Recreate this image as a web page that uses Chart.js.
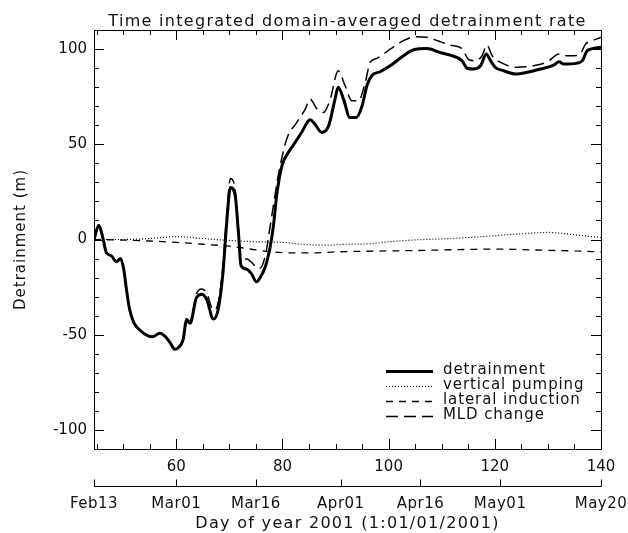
<!DOCTYPE html>
<html><head><meta charset="utf-8">
<script src="https://cdn.jsdelivr.net/npm/chart.js@4/dist/chart.umd.min.js"></script>
<style>html,body{margin:0;padding:0;background:#fff}canvas{display:block}</style>
</head><body>
<canvas id="c" width="628" height="533" style="width:628px;height:533px"></canvas>
<script>
// ---- data (day of year 2001 / metres) ----
const detrainDays = [44.5,45.4,46.2,46.8,47.8,48.7,49.5,50.1,50.6,51.2,52,53.1,54.7,55.6,56.9,57.8,58.8,59.7,60.3,61.3,61.9,62.6,63.8,64.8,65.7,67,67.9,68.8,69.5,70.2,71.1,71.7,72.2,73.3,74.2,75.1,75.8,76.8,77.6,78.3,78.9,79.9,81.1,82.4,83.6,85.2,86.1,87.4,88.7,89.9,90.5,91.5,92.7,93.9,95,95.9,96.8,98.4,100.3,102.8,104.7,107.2,109.7,111.6,113.8,114.8,116,117.3,118.4,119.2,120.1,121.7,123.9,126.1,128.6,131.1,132.1,133,135.5,136.5,137.4,140];
const detrainVals = [0,7.5,0.5,-6.8,-8.6,-11.7,-10,-15.6,-26,-36.6,-43.6,-47.5,-50.6,-51,-49.2,-50.6,-54,-57.6,-57,-52.4,-42.7,-44,-30.5,-28.7,-31.3,-41.8,-36.6,-17.3,9,27.3,23,3.7,-13.8,-15.6,-18.2,-22.2,-20,-14,-5.1,7.2,23,38.7,45.7,51,56.2,62.9,60.6,56.2,59.7,73.7,79.9,73.7,64.1,64.1,70.2,80.7,86,88.1,91.2,96.5,99.6,100.3,98.2,96.8,93.9,89.9,89.5,91.2,97.4,93.9,90.4,88.6,86.9,87.8,89.5,91.6,93.3,92.1,92.6,93.9,99.1,100.9];

const mldDays = [44.5,45.4,46.2,46.8,47.8,48.7,49.5,50.1,50.6,51.2,52,53.1,54.7,55.6,56.9,57.8,58.8,59.7,60.3,61.3,61.9,62.6,63.8,64.8,65.7,67,67.9,68.8,69.5,70.2,71.1,71.7,72.2,73.3,74.2,75.1,75.8,76.8,77.6,78.3,79.2,80.8,82.7,84.3,85.2,86.5,87.7,89,90.5,91.8,93.1,94.3,95.6,96.5,97.8,100.3,102.8,105,107.2,109.1,111.6,113.8,115.1,116.3,117.6,118.5,119.5,121.1,124.2,127.3,129.9,132.1,133.7,135.9,137.1,138.4,140];
const mldVals = [0,7.5,0.5,-6.8,-8.6,-11.7,-10,-15.6,-26,-36.6,-43.6,-47.5,-50.6,-51,-49.2,-50.6,-54,-57.6,-57,-52.2,-41.5,-43,-28.5,-26,-28,-37,-33,-13,13,32,26,6,-9,-10.3,-12,-14.7,-15,-8,5.4,18,33.5,52.7,61.5,68.5,73.7,68.5,66.7,73.7,88.6,80.7,72.8,72.8,82.5,93,95.1,100,104.4,106.5,106.2,104.5,102,100.3,94.4,93.9,96.5,102.1,96.5,93,90.4,91.2,93.3,97.4,96.5,96.8,102.6,104.4,106.2];

const pumpDays = [44.5,50,55,60,65,70,75,80,85,88,92,96,100,105,110,115,120,125,130,135,140];
const pumpVals = [0,0,0.5,1.5,0.5,-0.5,-1.2,-1.5,-2.8,-3,-2.5,-2.3,-1.2,-0.2,0.3,1,2,3,3.7,2.5,1];

const latDays = [44.5,50,55,60,65,70,72,75,78,82,86,90,95,100,105,110,115,120,125,130,135,140];
const latVals = [0,-0.3,-0.8,-1.5,-2.5,-3.5,-4.2,-5.5,-6.5,-7,-7,-6.5,-6.2,-6,-5.8,-5.5,-5.2,-5,-5.3,-5.7,-6,-6.5];

const xTickValues = [60,80,100,120,140];
const yTickValues = [-100,-50,0,50,100];
const dateTickDays = [44.5,60,75,91,106,121,140];
const dateTickLabels = ['Feb13','Mar01','Mar16','Apr01','Apr16','May01','May20'];
const X_MIN = 44.5, X_MAX = 140, Y_MIN = -110, Y_MAX = 110;
const X_MINOR = 5, Y_MINOR = 10;

const FONT = 'DejaVu Sans';
const TXT = '#111';
const toPts = (xs, ys) => xs.map((d, i) => ({x: d, y: ys[i]}));

// wider letter spacing for titles (to mimic the wide vector font)
const spacing = {
  id: 'spacing',
  beforeDraw(chart) {
    const wrap = (obj, fn, ls) => {
      if (!obj || obj['_ls_' + fn]) return;
      const orig = obj[fn].bind(obj);
      obj[fn] = (...args) => {
        const c = chart.ctx; const prev = c.letterSpacing;
        c.letterSpacing = ls; orig(...args); c.letterSpacing = prev || '0px';
      };
      obj['_ls_' + fn] = true;
    };
    wrap(chart.scales.x2, 'drawTitle', '1.3px');
    wrap(chart.scales.y, 'drawTitle', '1px');
    wrap(chart.titleBlock, 'draw', '1.3px');
    wrap(chart.scales.x2, 'drawLabels', '0.5px');
  }
};

const frameTicks = {
  id: 'frameTicks',
  afterDatasetsDraw(chart) {
    const {ctx, chartArea: a, scales: {x, y, x2}} = chart;
    ctx.save();
    ctx.strokeStyle = '#000';
    ctx.lineWidth = 1;
    ctx.beginPath();
    ctx.rect(Math.round(a.left) + 0.5, Math.round(a.top) + 0.5, Math.round(a.right - a.left), Math.round(a.bottom - a.top));
    ctx.stroke();
    ctx.beginPath();
    for (let d = Math.ceil(X_MIN / X_MINOR) * X_MINOR; d <= X_MAX; d += X_MINOR) {
      const px = Math.round(x.getPixelForValue(d)) + 0.5;
      const len = xTickValues.includes(d) ? 10 : 5;
      ctx.moveTo(px, a.bottom); ctx.lineTo(px, a.bottom - len);
      ctx.moveTo(px, a.top); ctx.lineTo(px, a.top + len);
    }
    for (let v = Y_MIN; v <= Y_MAX; v += Y_MINOR) {
      const py = Math.round(y.getPixelForValue(v)) + 0.5;
      const len = yTickValues.includes(v) ? 10 : 5;
      ctx.moveTo(a.left, py); ctx.lineTo(a.left + len, py);
      ctx.moveTo(a.right, py); ctx.lineTo(a.right - len, py);
    }
    // date axis line with upward ticks
    const ly = Math.round(x2.top + 7) + 0.5;
    ctx.moveTo(a.left, ly); ctx.lineTo(a.right + 0.5, ly);
    dateTickDays.forEach(d => {
      const px = Math.round(x2.getPixelForValue(d)) + 0.5;
      ctx.moveTo(px, ly); ctx.lineTo(px, ly - 7);
    });
    ctx.stroke();
    ctx.restore();
  }
};

const innerLegend = {
  id: 'innerLegend',
  afterDatasetsDraw(chart) {
    const {ctx, chartArea: a} = chart;
    const x0 = a.left + 292, x1 = a.left + 339, tx = a.left + 349;
    let yy = 371;
    ctx.save();
    ctx.font = '15px ' + FONT;
    ctx.letterSpacing = '0.9px';
    ctx.textBaseline = 'middle';
    ctx.fillStyle = TXT;
    chart.data.datasets.forEach(ds => {
      ctx.strokeStyle = '#000';
      ctx.lineWidth = ds.borderWidth;
      ctx.setLineDash(ds.borderDash || []);
      ctx.beginPath(); ctx.moveTo(x0, yy + 0.5); ctx.lineTo(x1, yy + 0.5); ctx.stroke();
      ctx.setLineDash([]);
      ctx.fillText(ds.label, tx, yy - 1);
      yy += 15;
    });
    ctx.restore();
  }
};

const noHPad = s => { s.paddingLeft = 0; s.paddingRight = 0; };

new Chart(document.getElementById('c'), {
  type: 'line',
  data: {
    datasets: [
      {label: 'detrainment', data: toPts(detrainDays, detrainVals), borderColor: '#000', borderWidth: 3, borderDash: [], pointRadius: 0, cubicInterpolationMode: 'monotone'},
      {label: 'vertical pumping', data: toPts(pumpDays, pumpVals), borderColor: '#000', borderWidth: 1.2, borderDash: [1, 2], pointRadius: 0, cubicInterpolationMode: 'monotone'},
      {label: 'lateral induction', data: toPts(latDays, latVals), borderColor: '#000', borderWidth: 1.3, borderDash: [7, 6], pointRadius: 0, cubicInterpolationMode: 'monotone'},
      {label: 'MLD change', data: toPts(mldDays, mldVals), borderColor: '#000', borderWidth: 1.5, borderDash: [12, 6], pointRadius: 0, cubicInterpolationMode: 'monotone'}
    ]
  },
  options: {
    responsive: false, devicePixelRatio: 1, animation: false,
    layout: {padding: {left: 0, right: 27, top: 0, bottom: 0}},
    plugins: {
      legend: {display: false}, tooltip: {enabled: false},
      title: {display: true, text: 'Time integrated domain-averaged detrainment rate', fullSize: false,
        color: TXT, font: {family: FONT, size: 16, weight: 'normal', lineHeight: 1}, padding: {top: 14, bottom: 0}}
    },
    scales: {
      x: {
        type: 'linear', position: 'bottom', min: X_MIN, max: X_MAX,
        afterBuildTicks: s => { s.ticks = xTickValues.map(v => ({value: v})); },
        afterFit: s => { s.height = 30; noHPad(s); },
        grid: {display: false, drawTicks: false}, border: {display: false},
        ticks: {autoSkip: false, maxRotation: 0, padding: 9, color: TXT, font: {family: FONT, size: 15}}
      },
      x2: {
        type: 'linear', position: 'bottom', min: X_MIN, max: X_MAX,
        afterBuildTicks: s => { s.ticks = dateTickDays.map(v => ({value: v})); },
        afterFit: s => { s.height = 54; noHPad(s); },
        grid: {display: false, drawTicks: false}, border: {display: false},
        ticks: {autoSkip: false, maxRotation: 0, padding: 16, color: TXT, font: {family: FONT, size: 15},
          callback: (v) => { const i = dateTickDays.indexOf(v); return i >= 0 ? dateTickLabels[i] : ''; }},
        title: {display: true, text: 'Day of year 2001 (1:01/01/2001)', color: TXT, font: {family: FONT, size: 16}, padding: {top: 0, bottom: 0}}
      },
      y: {
        type: 'linear', position: 'left', min: Y_MIN, max: Y_MAX,
        afterBuildTicks: s => { s.ticks = yTickValues.map(v => ({value: v})); },
        afterFit: s => { s.width = 94; },
        grid: {display: false, drawTicks: false}, border: {display: false},
        ticks: {padding: 7, color: TXT, font: {family: FONT, size: 15}},
        title: {display: true, text: 'Detrainment (m)', color: TXT, font: {family: FONT, size: 15}, padding: {top: 12, bottom: 0}}
      }
    }
  },
  plugins: [spacing, frameTicks, innerLegend]
});
</script>
</body></html>
